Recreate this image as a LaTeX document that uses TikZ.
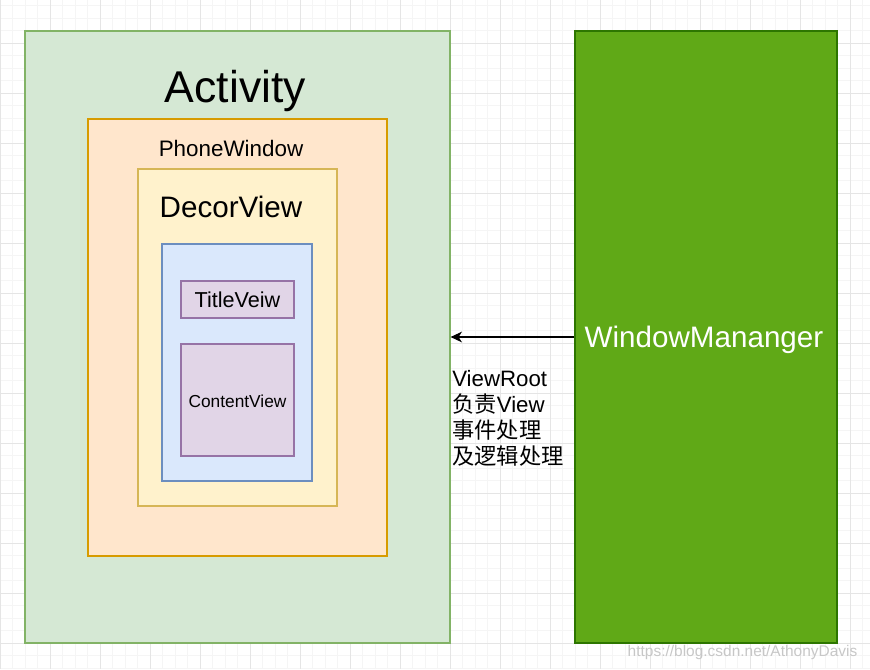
\documentclass[tikz,border=0pt]{standalone}
\usepackage{fontspec}
\setmainfont{Liberation Sans}
\newfontfamily\cjk{Noto Sans CJK SC}
\usepackage{tikz}
\usetikzlibrary{positioning, arrows.meta, calc}

\definecolor{actfill}{HTML}{D5E8D4}
\definecolor{actline}{HTML}{82B366}
\definecolor{phonefill}{HTML}{FFE6CC}
\definecolor{phoneline}{HTML}{D79B00}
\definecolor{decorfill}{HTML}{FFF2CC}
\definecolor{decorline}{HTML}{D6B656}
\definecolor{groupfill}{HTML}{DAE8FC}
\definecolor{groupline}{HTML}{6C8EBF}
\definecolor{viewfill}{HTML}{E1D5E7}
\definecolor{viewline}{HTML}{9673A6}
\definecolor{wmfill}{HTML}{60A917}
\definecolor{wmline}{HTML}{2D7600}

\tikzstyle{arrow} = [line width=0.8pt,-{Stealth[length=8.5pt,width=8pt,inset=2.5pt]}]
\tikzstyle{box} = [rectangle, inner sep=0pt, line width=0.9pt]
\tikzstyle{activity} = [box, draw=actline, fill=actfill]
\tikzstyle{window} = [box, draw=phoneline, fill=phonefill]
\tikzstyle{decor} = [box, draw=decorline, fill=decorfill]
\tikzstyle{group} = [box, draw=groupline, fill=groupfill]
\tikzstyle{view} = [box, draw=viewline, fill=viewfill]
\tikzstyle{manager} = [box, draw=wmline, fill=wmfill]
\tikzstyle{label} = [inner sep=0pt, anchor=base]
\tikzstyle{gridminor} = [line width=0.5pt, draw=black!4]
\tikzstyle{gridmajor} = [line width=0.6pt, draw=black!10]

\begin{document}
\begin{tikzpicture}[x=0.75pt, y=-0.75pt]
        \useasboundingbox (0,0) rectangle (870,669);
        % background grid
        \foreach \gx in {0,12.5,...,870} \draw[gridminor] (\gx,0) -- (\gx,669);
        \foreach \gy in {5.5,18,...,669} \draw[gridminor] (0,\gy) -- (870,\gy);
        \foreach \gx in {0,50,...,850} \draw[gridmajor] (\gx,0) -- (\gx,669);
        \foreach \gy in {43,93,...,643} \draw[gridmajor] (0,\gy) -- (870,\gy);

        \node (activity) [activity, minimum width=318.75pt, minimum height=459pt] at (237.5,337) {};
        \node (phonewindow) [window, minimum width=224.25pt, minimum height=327.75pt] at (237.5,337.5) {};
        \node (decorview) [decor, minimum width=149.25pt, minimum height=252.75pt] at (237.5,337.5) {};
        \node (viewgroup) [group, minimum width=112.5pt, minimum height=177.75pt] at (237,362.5) {};
        \node (titleview) [view, minimum width=84.75pt, minimum height=27.75pt] at (237.5,299.5) {};
        \node (contentview) [view, minimum width=84.75pt, minimum height=84pt] at (237.5,400) {};
        \node (wm) [manager, minimum width=196.5pt, minimum height=459pt] at (706,337) {};

        \node (activitytext) [label, font=\fontsize{33.4}{40}\selectfont] at (235.5,102) {Activity};
        \node (phonetext) [label, font=\fontsize{16.8}{20}\selectfont] at (231,156) {PhoneWindow};
        \node (decortext) [label, font=\fontsize{22.2}{26}\selectfont] at (231,217) {DecorView};
        \node (titletext) [label, font=\fontsize{16.2}{19}\selectfont] at (237.5,307) {TitleVeiw};
        \node (contenttext) [label, font=\fontsize{13}{15}\selectfont] at (237.5,407) {ContentView};
        \node (wmtext) [label, text=white, font=\fontsize{22.2}{26}\selectfont] at (704,347) {WindowMananger};

        \draw [arrow] (wm.west) -- (activity.east);
        \node (viewroot) [inner sep=0pt, anchor=base west, align=left, font=\fontsize{16.7}{19.4}\selectfont] at (452,464)
            {ViewRoot\\{\cjk 负责}View\\{\cjk 事件处理}\\{\cjk 及逻辑处理}};

        \node (watermark) [inner sep=0pt, text=black!22, font=\fontsize{11.6}{14}\selectfont] at (742.5,652) {https://blog.csdn.net/AthonyDavis};
\end{tikzpicture}
\end{document}
